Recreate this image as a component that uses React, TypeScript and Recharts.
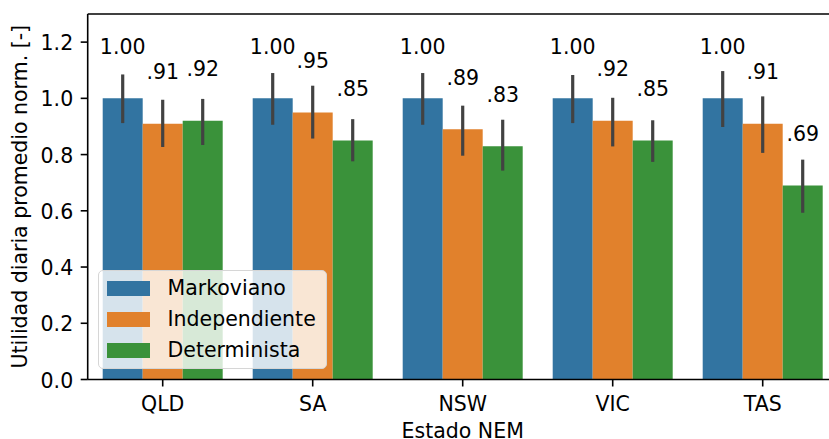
import React from 'react';
import {
  BarChart,
  Bar,
  XAxis,
  YAxis,
  ErrorBar,
  LabelList,
  Legend,
  ReferenceLine,
} from 'recharts';

// NEM states on the x axis
const categories = ['QLD', 'SA', 'NSW', 'VIC', 'TAS'];

// Mean normalised daily utility per model
const markoviano = [1.0, 1.0, 1.0, 1.0, 1.0];
const independiente = [0.91, 0.95, 0.89, 0.92, 0.91];
const determinista = [0.92, 0.85, 0.83, 0.85, 0.69];

// Confidence interval bounds per model
const markovianoLow = [0.912, 0.906, 0.906, 0.912, 0.898];
const markovianoHigh = [1.085, 1.09, 1.09, 1.083, 1.097];
const independienteLow = [0.827, 0.857, 0.796, 0.829, 0.806];
const independienteHigh = [0.995, 1.045, 0.974, 1.002, 1.007];
const deterministaLow = [0.834, 0.776, 0.743, 0.774, 0.593];
const deterministaHigh = [0.998, 0.926, 0.924, 0.922, 0.782];

const yTicks = [0, 0.2, 0.4, 0.6, 0.8, 1.0, 1.2];

const seriesNames = ['Markoviano', 'Independiente', 'Determinista'];
const seriesColors = ['#3274a1', '#e1812c', '#3a923a'];

const data = categories.map((estado, i) => ({
  estado,
  markoviano: markoviano[i],
  markovianoErr: [markoviano[i] - markovianoLow[i], markovianoHigh[i] - markoviano[i]],
  independiente: independiente[i],
  independienteErr: [independiente[i] - independienteLow[i], independienteHigh[i] - independiente[i]],
  determinista: determinista[i],
  deterministaErr: [determinista[i] - deterministaLow[i], deterministaHigh[i] - determinista[i]],
}));

const FONT = 'DejaVu Sans';
const FS = 20.5;

const fmtValue = (v: number) => (v >= 1 ? v.toFixed(2) : v.toFixed(2).replace(/^0/, ''));

const ValueLabel = (props: any) => {
  const { x, y, width, value } = props;
  return (
    <text
      x={Number(x) + Number(width) / 2}
      y={Number(y) - 44.5}
      textAnchor="middle"
      fontFamily={FONT}
      fontSize={FS}
      fill="#000"
    >
      {fmtValue(Number(value))}
    </text>
  );
};

const XTick = (props: any) => {
  const { x, y, payload } = props;
  return (
    <text x={x} y={y} dy={24.5} textAnchor="middle" fontFamily={FONT} fontSize={FS} fill="#000">
      {payload.value}
    </text>
  );
};

const YTick = (props: any) => {
  const { x, y, payload } = props;
  return (
    <text x={x} y={y} dx={-7.5} dy={8} textAnchor="end" fontFamily={FONT} fontSize={FS} fill="#000">
      {Number(payload.value).toFixed(1)}
    </text>
  );
};

const XTitle = (props: any) => {
  const vb = props.viewBox || { x: 87.7, y: 379.5, width: 750, height: 59.5 };
  return (
    <text
      x={vb.x + vb.width / 2}
      y={vb.y + 58.5}
      textAnchor="middle"
      fontFamily={FONT}
      fontSize={FS}
      fill="#000"
    >
      Estado NEM
    </text>
  );
};

const YTitle = (props: any) => {
  const vb = props.viewBox || { x: 0, y: 14, width: 87.7, height: 365.5 };
  const cx = 27.3;
  const cy = vb.y + vb.height / 2;
  return (
    <text
      x={cx}
      y={cy}
      transform={`rotate(-90, ${cx}, ${cy})`}
      textAnchor="middle"
      fontFamily={FONT}
      fontSize={FS}
      fill="#000"
    >
      Utilidad diaria promedio norm. [-]
    </text>
  );
};

const LegendBox = () => (
  <div
    style={{
      position: 'relative',
      width: 228.5,
      height: 99.3,
      boxSizing: 'border-box',
      border: '1.3px solid #d6d6d6',
      borderRadius: 5,
      background: 'rgba(255,255,255,0.8)',
      fontFamily: FONT,
      fontSize: FS,
      color: '#000',
    }}
  >
    {seriesNames.map((name, i) => (
      <div key={name}>
        <div
          style={{
            position: 'absolute',
            left: 7.5,
            top: 17.3 + i * 31 - 7.35,
            width: 43,
            height: 14.7,
            background: seriesColors[i],
          }}
        />
        <div
          style={{
            position: 'absolute',
            left: 68.5,
            top: 17.3 + i * 31 - 12,
            height: 24,
            lineHeight: '24px',
            whiteSpace: 'nowrap',
          }}
        >
          {name}
        </div>
      </div>
    ))}
  </div>
);

const axisStroke = { stroke: '#000', strokeWidth: 1.6 };

export default function App() {
  return (
    <div
      style={{
        position: 'fixed',
        left: 0,
        top: 0,
        width: 829,
        height: 439,
        overflow: 'hidden',
        background: '#fff',
      }}
    >
      <BarChart
        width={850}
        height={439}
        data={data}
        margin={{ top: 14, right: 12.3, bottom: 0, left: 0 }}
        barCategoryGap="10%"
        barGap={0}
      >
        <XAxis
          dataKey="estado"
          height={59.5}
          tick={<XTick />}
          tickSize={7}
          tickMargin={0}
          axisLine={axisStroke}
          tickLine={axisStroke}
          label={XTitle}
        />
        <YAxis
          type="number"
          domain={[0, 1.3]}
          ticks={yTicks}
          allowDataOverflow
          width={87.7}
          tick={<YTick />}
          tickSize={7}
          tickMargin={0}
          axisLine={axisStroke}
          tickLine={axisStroke}
          label={YTitle}
        />
        <ReferenceLine y={1.3} stroke="#000" strokeWidth={1.6} />
        <Bar dataKey="markoviano" name="Markoviano" fill={seriesColors[0]} isAnimationActive={false}>
          <ErrorBar dataKey="markovianoErr" width={0} stroke="#424242" strokeWidth={3.2} />
          <LabelList dataKey="markoviano" content={ValueLabel} />
        </Bar>
        <Bar dataKey="independiente" name="Independiente" fill={seriesColors[1]} isAnimationActive={false}>
          <ErrorBar dataKey="independienteErr" width={0} stroke="#424242" strokeWidth={3.2} />
          <LabelList dataKey="independiente" content={ValueLabel} />
        </Bar>
        <Bar dataKey="determinista" name="Determinista" fill={seriesColors[2]} isAnimationActive={false}>
          <ErrorBar dataKey="deterministaErr" width={0} stroke="#424242" strokeWidth={3.2} />
          <LabelList dataKey="determinista" content={ValueLabel} />
        </Bar>
        <Legend
          layout="vertical"
          align="center"
          verticalAlign="middle"
          content={<LegendBox />}
          wrapperStyle={{ position: 'absolute', left: 98, top: 270, width: 228.5, height: 99.3 }}
        />
      </BarChart>
    </div>
  );
}
